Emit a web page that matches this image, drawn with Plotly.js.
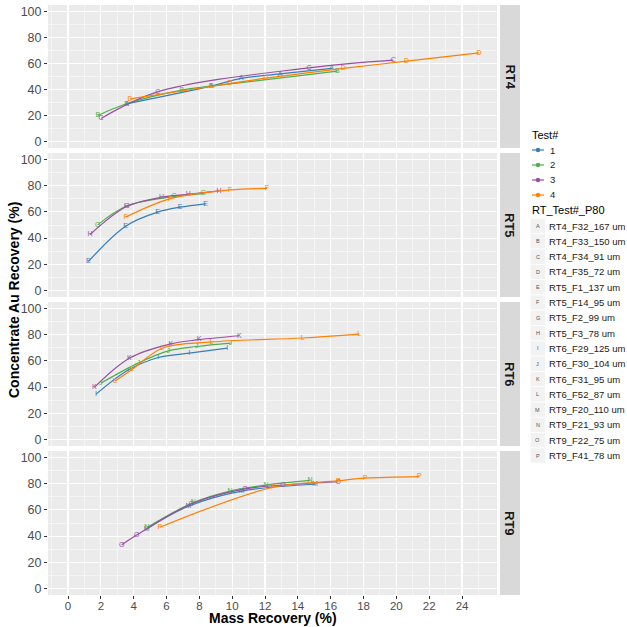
<!DOCTYPE html>
<html>
<head>
<meta charset="utf-8">
<script src="https://cdn.plot.ly/plotly-3.0.1.min.js"></script>
<style>html,body{margin:0;padding:0;background:#fff;}#chart{width:627px;height:627px;}</style>
</head>
<body>
<div id="chart"></div>
<script>
// ---- data ----
const panels = ['RT4', 'RT5', 'RT6', 'RT9'];
const tests = ['1', '2', '3', '4'];
const testColors = ['#377EB8', '#4DAF4A', '#984EA3', '#FF7F00'];
const codes = [['A','B','C','D'], ['E','G','H','F'], ['I','J','K','L'], ['M','N','O','P']];
const legendCodes = ['A','B','C','D','E','F','G','H','I','J','K','L','M','N','O','P'];
const legendLabels = ['RT4_F32_167 um','RT4_F33_150 um','RT4_F34_91 um','RT4_F35_72 um',
  'RT5_F1_137 um','RT5_F14_95 um','RT5_F2_99 um','RT5_F3_78 um',
  'RT6_F29_125 um','RT6_F30_104 um','RT6_F31_95 um','RT6_F52_87 um',
  'RT9_F20_110 um','RT9_F21_93 um','RT9_F22_75 um','RT9_F41_78 um'];
const xTicks = [0,2,4,6,8,10,12,14,16,18,20,22,24];
const yTicks = [0,20,40,60,80,100];

const massRT4 = [[3.57, 8.71, 10.54, 12.91, 16.06], [1.81, 3.57, 6.92, 8.71, 16.4], [2.01, 5.46, 14.68, 19.81], [3.78, 9.87, 12.04, 16.77, 20.62, 25.03]];
const concRT4 = [[29, 42.6, 48.5, 52, 56.2], [20, 29, 39.5, 42.6, 54.1], [17.7, 38.2, 56.7, 62.6], [32.8, 44.6, 48.7, 56.2, 61.8, 68.2]];
const massRT5 = [[1.24, 3.51, 5.46, 6.82, 8.38], [1.81, 3.57, 6.46, 8.24], [1.34, 3.57, 5.7, 7.33, 9.2], [3.51, 6.2, 9.87, 12.12]];
const concRT5 = [[22.1, 49.1, 59.8, 63.6, 66.2], [50.1, 64.5, 71.8, 74.0], [42.7, 64.1, 71.2, 73.4, 76.0], [56.0, 70.0, 76.8, 78.0]];
const massRT6 = [[1.71, 3.67, 5.5, 7.39, 9.7], [2.0, 4.3, 6.11, 7.84, 9.9], [1.6, 3.74, 6.27, 7.98, 10.43], [2.86, 3.9, 5.74, 8.75, 14.29, 17.74]];
const concRT6 = [[34.6, 53.0, 62.6, 65.9, 69.7], [43.0, 58.5, 67.7, 71.0, 73.6], [39.8, 62.1, 73.0, 76.2, 79.2], [44.6, 53.5, 69.7, 74.5, 77.5, 80.5]];
const massRT9 = [[4.79, 7.33, 10.58, 15.04], [4.8, 7.63, 9.87, 12.06, 14.74], [3.27, 4.18, 7.5, 10.78, 13.1, 16.46], [5.6, 12.5, 16.46, 18.09, 21.4]];
const concRT9 = [[45.5, 62.8, 74.4, 79.6], [46.5, 65.6, 74.4, 79, 82.5], [33.3, 40.8, 64.5, 76.0, 79.0, 81.5], [46.8, 77.3, 82.2, 84.3, 85.5]];

const massAll = [massRT4, massRT5, massRT6, massRT9];
const concAll = [concRT4, concRT5, concRT6, concRT9];

// ---- layout geometry (pixels) ----
const W = 627, H = 627;
const px = v => v / W;
const py = v => 1 - v / H;
const panelTop = [5, 153, 302, 451];
const panelBot = [148, 297, 446, 595];
const xLeft = 48, xRight = 497;

const font = 'Liberation Sans, Arial, sans-serif';
const narrow = 'Liberation Sans Narrow, Arial Narrow, Liberation Sans, sans-serif';
const traces = [];
panels.forEach((p, pi) => {
  const ax = pi === 0 ? '' : String(pi + 1);
  tests.forEach((t, ti) => {
    const xs = massAll[pi][ti], ys = concAll[pi][ti];
    traces.push({
      type: 'scatter', mode: 'lines+text',
      x: xs, y: ys,
      text: xs.map(() => codes[pi][ti]),
      textposition: 'middle center',
      textfont: {family: font, size: 7, color: testColors[ti]},
      line: {color: testColors[ti], width: 1.2, shape: 'spline', smoothing: 1},
      xaxis: 'x' + ax, yaxis: 'y' + ax,
      showlegend: false, hoverinfo: 'x+y', cliponaxis: false
    });
  });
});

const layout = {
  width: W, height: H,
  margin: {l: 0, r: 0, t: 0, b: 0},
  paper_bgcolor: '#FFFFFF',
  plot_bgcolor: '#EBEBEB',
  showlegend: false,
  font: {family: font, color: '#4D4D4D'},
  shapes: [], annotations: []
};

panels.forEach((p, pi) => {
  const ax = pi === 0 ? '' : String(pi + 1);
  const bottom = pi === panels.length - 1;
  layout['xaxis' + ax] = {
    domain: [px(xLeft), px(xRight)],
    range: [-1.22, 26.13],
    anchor: 'y' + ax,
    tickmode: 'array', tickvals: xTicks, ticktext: xTicks.map(String),
    showticklabels: bottom,
    ticks: bottom ? 'outside' : '', ticklen: 3, tickcolor: '#333333', tickwidth: 1,
    ticklabelstandoff: -3,
    tickfont: {family: font, size: 11.5, color: '#4D4D4D'},
    showgrid: true, gridcolor: '#FFFFFF', gridwidth: 1.1,
    minor: {tickmode: 'array', tickvals: [-1,1,3,5,7,9,11,13,15,17,19,21,23,25], showgrid: true, gridcolor: '#FFFFFF', gridwidth: 0.5, ticks: ''},
    zeroline: false, showline: false, fixedrange: true
  };
  if (pi > 0) layout['xaxis' + ax].matches = 'x';
  layout['yaxis' + ax] = {
    domain: [py(panelBot[pi]), py(panelTop[pi])],
    range: [-5, 105],
    anchor: 'x' + ax,
    tickmode: 'array', tickvals: yTicks, ticktext: yTicks.map(String),
    ticks: 'outside', ticklen: 3, tickcolor: '#333333', tickwidth: 1,
    tickfont: {family: font, size: 12.5, color: '#4D4D4D'},
    showgrid: true, gridcolor: '#FFFFFF', gridwidth: 1.1,
    minor: {tickmode: 'array', tickvals: [10,30,50,70,90], showgrid: true, gridcolor: '#FFFFFF', gridwidth: 0.5, ticks: ''},
    zeroline: false, showline: false, fixedrange: true
  };
  // facet strip
  layout.shapes.push({type: 'rect', xref: 'paper', yref: 'paper',
    x0: px(500), x1: px(520), y0: py(panelBot[pi]), y1: py(panelTop[pi]),
    fillcolor: '#D9D9D9', line: {width: 0}, layer: 'below'});
  layout.annotations.push({xref: 'paper', yref: 'paper', x: px(510), y: py((panelTop[pi] + panelBot[pi]) / 2),
    text: '<b>' + p + '</b>', showarrow: false, textangle: 90,
    font: {family: font, size: 13, color: '#1A1A1A'}, xanchor: 'center', yanchor: 'middle'});
});

// axis titles
layout.annotations.push({xref: 'paper', yref: 'paper', x: px((xLeft + xRight) / 2), y: py(618),
  text: '<b>Mass Recovery (%)</b>', showarrow: false, xanchor: 'center', yanchor: 'middle',
  font: {family: font, size: 14, color: '#000000'}});
layout.annotations.push({xref: 'paper', yref: 'paper', x: px(14), y: py(300),
  text: '<b>Concentrate Au Recovery (%)</b>', showarrow: false, textangle: -90, xanchor: 'center', yanchor: 'middle',
  font: {family: font, size: 14, color: '#000000'}});

// legend: Test#
layout.annotations.push({xref: 'paper', yref: 'paper', x: px(530), y: py(135), text: 'Test#',
  showarrow: false, xanchor: 'left', yanchor: 'middle', font: {family: narrow, size: 11, color: '#000000'}});
const testY = [150, 165, 180, 195];
tests.forEach((t, i) => {
  const yy = testY[i];
  layout.shapes.push({type: 'line', xref: 'paper', yref: 'paper', x0: px(532), x1: px(544), y0: py(yy), y1: py(yy),
    line: {color: testColors[i], width: 1.2}});
  layout.shapes.push({type: 'circle', xref: 'paper', yref: 'paper', x0: px(535.8), x1: px(540.2), y0: py(yy + 2.2), y1: py(yy - 2.2),
    fillcolor: testColors[i], line: {width: 0}});
  layout.annotations.push({xref: 'paper', yref: 'paper', x: px(547.5), y: py(yy), text: t,
    showarrow: false, xanchor: 'left', yanchor: 'middle', font: {family: narrow, size: 9.5, color: '#1A1A1A'}});
});

// legend: RT_Test#_P80
layout.annotations.push({xref: 'paper', yref: 'paper', x: px(530), y: py(210), text: 'RT_Test#_P80',
  showarrow: false, xanchor: 'left', yanchor: 'middle', font: {family: narrow, size: 11, color: '#000000'}});
legendCodes.forEach((c, i) => {
  const yy = 226 + i * 15.3;
  layout.shapes.push({type: 'rect', xref: 'paper', yref: 'paper', x0: px(530.5), x1: px(545), y0: py(yy + 7.2), y1: py(yy - 7.2),
    fillcolor: '#F2F2F2', line: {width: 0}});
  layout.annotations.push({xref: 'paper', yref: 'paper', x: px(537.7), y: py(yy), text: c,
    showarrow: false, xanchor: 'center', yanchor: 'middle', font: {family: font, size: 5.5, color: '#555555'}});
  layout.annotations.push({xref: 'paper', yref: 'paper', x: px(546.5), y: py(yy), text: legendLabels[i],
    showarrow: false, xanchor: 'left', yanchor: 'middle', font: {family: narrow, size: 9.5, color: '#1A1A1A'}});
});

Plotly.newPlot('chart', traces, layout, {displayModeBar: false, staticPlot: true});
</script>
</body>
</html>
